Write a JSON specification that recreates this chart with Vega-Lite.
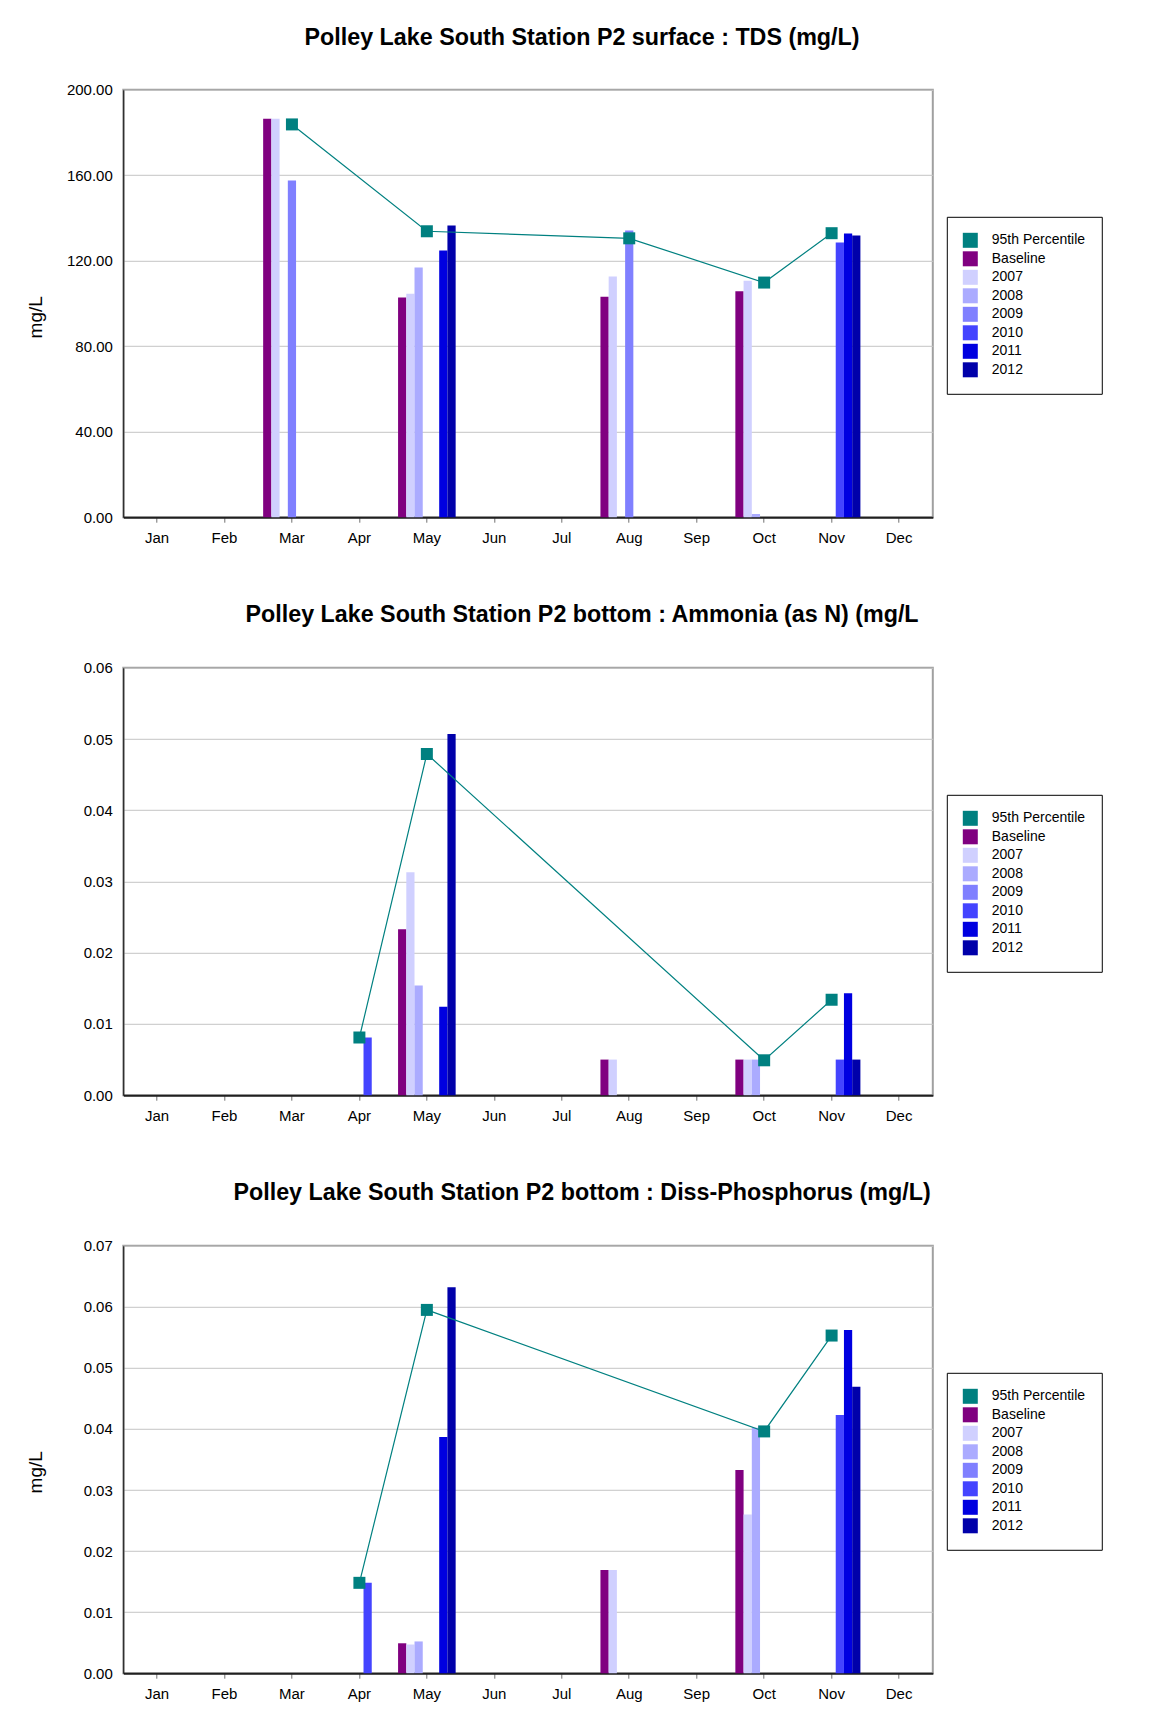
{
  "$schema": "https://vega.github.io/schema/vega-lite/v6.json",
  "background": "white",
  "padding": {"left": 25.3, "top": 23.8, "right": 10, "bottom": 10},
  "bounds": "flush",
  "spacing": 150,
  "resolve": {"scale": {"color": "independent", "x": "independent", "y": "independent", "xOffset": "independent"}, "legend": {"color": "independent"}},
  "config": {
    "font": "Liberation Sans",
    "view": {"stroke": "#A0A0A0", "strokeWidth": 2},
    "axisX": {"labelAngle": 0, "labelFontSize": 15, "labelColor": "black", "labelFont": "Liberation Sans", "tickColor": "#707070", "tickSize": 5, "labelPadding": 8.5, "domainColor": "#202020", "domainWidth": 2, "grid": false, "title": null},
    "axisY": {"labelFontSize": 15, "labelColor": "black", "labelFont": "Liberation Sans", "ticks": false, "tickSize": 0, "labelPadding": 11, "domainColor": "black", "domainWidth": 1, "gridColor": "#C4C4C4", "gridWidth": 1, "titleFontSize": 19, "titleFontWeight": "normal", "titleColor": "black", "titleFont": "Liberation Sans"},
    "legend": {"orient": "none", "legendX": 823.5, "legendY": 127, "symbolType": "square", "symbolSize": 225, "symbolStrokeWidth": 0, "labelFontSize": 14, "labelFont": "Liberation Sans", "labelColor": "black", "labelOffset": 14, "rowPadding": 3.5, "padding": 16, "strokeColor": "black", "strokeWidth": 1, "fillColor": "white"},
    "title": {"fontSize": 23.3, "fontWeight": "bold", "font": "Liberation Sans", "color": "black", "anchor": "middle", "frame": "group", "dx": 54, "baseline": "middle", "offset": 33}
  },
  "datasets": {
    "tds_bars": [
      {"month": "Mar", "series": "Baseline", "value": 186.5},
      {"month": "Mar", "series": "2007", "value": 186.5},
      {"month": "Mar", "series": "2009", "value": 157.5},
      {"month": "May", "series": "Baseline", "value": 102.8},
      {"month": "May", "series": "2007", "value": 104.6},
      {"month": "May", "series": "2008", "value": 116.8},
      {"month": "May", "series": "2011", "value": 124.8},
      {"month": "May", "series": "2012", "value": 136.5},
      {"month": "Aug", "series": "Baseline", "value": 103.2},
      {"month": "Aug", "series": "2007", "value": 112.6},
      {"month": "Aug", "series": "2009", "value": 134.2},
      {"month": "Oct", "series": "Baseline", "value": 105.7},
      {"month": "Oct", "series": "2007", "value": 110.7},
      {"month": "Oct", "series": "2008", "value": 1.5},
      {"month": "Nov", "series": "2010", "value": 128.5},
      {"month": "Nov", "series": "2011", "value": 132.7},
      {"month": "Nov", "series": "2012", "value": 131.8}
    ],
    "tds_p95": [
      {"month": "Mar", "value": 183.8},
      {"month": "May", "value": 133.8},
      {"month": "Aug", "value": 130.5},
      {"month": "Oct", "value": 109.8},
      {"month": "Nov", "value": 132.9}
    ],
    "nh3_bars": [
      {"month": "Apr", "series": "2010", "value": 0.0081},
      {"month": "May", "series": "Baseline", "value": 0.0233},
      {"month": "May", "series": "2007", "value": 0.0313},
      {"month": "May", "series": "2008", "value": 0.0154},
      {"month": "May", "series": "2011", "value": 0.0124},
      {"month": "May", "series": "2012", "value": 0.0507},
      {"month": "Aug", "series": "Baseline", "value": 0.005},
      {"month": "Aug", "series": "2007", "value": 0.005},
      {"month": "Oct", "series": "Baseline", "value": 0.005},
      {"month": "Oct", "series": "2007", "value": 0.005},
      {"month": "Oct", "series": "2008", "value": 0.005},
      {"month": "Nov", "series": "2010", "value": 0.005},
      {"month": "Nov", "series": "2011", "value": 0.0143},
      {"month": "Nov", "series": "2012", "value": 0.005}
    ],
    "nh3_p95": [
      {"month": "Apr", "value": 0.0081},
      {"month": "May", "value": 0.0479},
      {"month": "Oct", "value": 0.0049},
      {"month": "Nov", "value": 0.0134}
    ],
    "p_bars": [
      {"month": "Apr", "series": "2010", "value": 0.0148},
      {"month": "May", "series": "Baseline", "value": 0.0049},
      {"month": "May", "series": "2007", "value": 0.0047},
      {"month": "May", "series": "2008", "value": 0.0052},
      {"month": "May", "series": "2011", "value": 0.0387},
      {"month": "May", "series": "2012", "value": 0.0632},
      {"month": "Aug", "series": "Baseline", "value": 0.0169},
      {"month": "Aug", "series": "2007", "value": 0.0169},
      {"month": "Oct", "series": "Baseline", "value": 0.0333},
      {"month": "Oct", "series": "2007", "value": 0.026},
      {"month": "Oct", "series": "2008", "value": 0.0402},
      {"month": "Nov", "series": "2010", "value": 0.0423},
      {"month": "Nov", "series": "2011", "value": 0.0562},
      {"month": "Nov", "series": "2012", "value": 0.0469}
    ],
    "p_p95": [
      {"month": "Apr", "value": 0.0148},
      {"month": "May", "value": 0.0595},
      {"month": "Oct", "value": 0.0396},
      {"month": "Nov", "value": 0.0553}
    ]
  },
  "vconcat": [
    {
      "width": 809.5, "height": 427.4,
      "title": {"text": "Polley Lake South Station P2 surface : TDS (mg/L)"},
      "layer": [
        {
          "data": {"name": "tds_bars"},
          "mark": {"type": "bar"},
          "encoding": {
            "x": {"field": "month", "type": "nominal", "scale": {"domain": ["Jan","Feb","Mar","Apr","May","Jun","Jul","Aug","Sep","Oct","Nov","Dec"], "paddingInner": 0, "paddingOuter": 0}},
            "xOffset": {"field": "series", "type": "nominal", "scale": {"domain": ["Baseline","2007","2008","2009","2010","2011","2012"], "paddingInner": 0, "paddingOuter": 0.6}},
            "y": {"field": "value", "type": "quantitative", "scale": {"domain": [0, 200], "nice": false}, "axis": {"values": [0, 40, 80, 120, 160, 200], "format": ".2f", "title": "mg/L", "titleX": -87.5, "titleY": 227, "titleAngle": 270, "titleAlign": "center", "titleBaseline": "middle"}},
            "color": {"field": "series", "type": "nominal", "scale": {"domain": ["95th Percentile","Baseline","2007","2008","2009","2010","2011","2012"], "range": ["#008080","#800080","#D0D0FF","#ABABFF","#8080FF","#4444FF","#0000E0","#0000AA"]}, "legend": {"title": null}}
          }
        },
        {
          "data": {"name": "tds_p95"},
          "mark": {"type": "line", "color": "#008080", "strokeWidth": 1.2},
          "encoding": {
            "x": {"field": "month", "type": "nominal"},
            "y": {"field": "value", "type": "quantitative"}
          }
        },
        {
          "data": {"name": "tds_p95"},
          "mark": {"type": "point", "shape": "square", "filled": true, "size": 144, "opacity": 1, "color": "#008080"},
          "encoding": {
            "x": {"field": "month", "type": "nominal"},
            "y": {"field": "value", "type": "quantitative"}
          }
        }
      ]
    },
    {
      "width": 809.5, "height": 427.4,
      "title": {"text": "Polley Lake South Station P2 bottom : Ammonia (as N) (mg/L"},
      "layer": [
        {
          "data": {"name": "nh3_bars"},
          "mark": {"type": "bar"},
          "encoding": {
            "x": {"field": "month", "type": "nominal", "scale": {"domain": ["Jan","Feb","Mar","Apr","May","Jun","Jul","Aug","Sep","Oct","Nov","Dec"], "paddingInner": 0, "paddingOuter": 0}},
            "xOffset": {"field": "series", "type": "nominal", "scale": {"domain": ["Baseline","2007","2008","2009","2010","2011","2012"], "paddingInner": 0, "paddingOuter": 0.6}},
            "y": {"field": "value", "type": "quantitative", "scale": {"domain": [0, 0.06], "nice": false}, "axis": {"values": [0, 0.01, 0.02, 0.03, 0.04, 0.05, 0.06], "format": ".2f", "title": null}},
            "color": {"field": "series", "type": "nominal", "scale": {"domain": ["95th Percentile","Baseline","2007","2008","2009","2010","2011","2012"], "range": ["#008080","#800080","#D0D0FF","#ABABFF","#8080FF","#4444FF","#0000E0","#0000AA"]}, "legend": {"title": null}}
          }
        },
        {
          "data": {"name": "nh3_p95"},
          "mark": {"type": "line", "color": "#008080", "strokeWidth": 1.2},
          "encoding": {
            "x": {"field": "month", "type": "nominal"},
            "y": {"field": "value", "type": "quantitative"}
          }
        },
        {
          "data": {"name": "nh3_p95"},
          "mark": {"type": "point", "shape": "square", "filled": true, "size": 144, "opacity": 1, "color": "#008080"},
          "encoding": {
            "x": {"field": "month", "type": "nominal"},
            "y": {"field": "value", "type": "quantitative"}
          }
        }
      ]
    },
    {
      "width": 809.5, "height": 427.4,
      "title": {"text": "Polley Lake South Station P2 bottom : Diss-Phosphorus (mg/L)"},
      "layer": [
        {
          "data": {"name": "p_bars"},
          "mark": {"type": "bar"},
          "encoding": {
            "x": {"field": "month", "type": "nominal", "scale": {"domain": ["Jan","Feb","Mar","Apr","May","Jun","Jul","Aug","Sep","Oct","Nov","Dec"], "paddingInner": 0, "paddingOuter": 0}},
            "xOffset": {"field": "series", "type": "nominal", "scale": {"domain": ["Baseline","2007","2008","2009","2010","2011","2012"], "paddingInner": 0, "paddingOuter": 0.6}},
            "y": {"field": "value", "type": "quantitative", "scale": {"domain": [0, 0.07], "nice": false}, "axis": {"values": [0, 0.01, 0.02, 0.03, 0.04, 0.05, 0.06, 0.07], "format": ".2f", "title": "mg/L", "titleX": -87.5, "titleY": 226, "titleAngle": 270, "titleAlign": "center", "titleBaseline": "middle"}},
            "color": {"field": "series", "type": "nominal", "scale": {"domain": ["95th Percentile","Baseline","2007","2008","2009","2010","2011","2012"], "range": ["#008080","#800080","#D0D0FF","#ABABFF","#8080FF","#4444FF","#0000E0","#0000AA"]}, "legend": {"title": null}}
          }
        },
        {
          "data": {"name": "p_p95"},
          "mark": {"type": "line", "color": "#008080", "strokeWidth": 1.2},
          "encoding": {
            "x": {"field": "month", "type": "nominal"},
            "y": {"field": "value", "type": "quantitative"}
          }
        },
        {
          "data": {"name": "p_p95"},
          "mark": {"type": "point", "shape": "square", "filled": true, "size": 144, "opacity": 1, "color": "#008080"},
          "encoding": {
            "x": {"field": "month", "type": "nominal"},
            "y": {"field": "value", "type": "quantitative"}
          }
        }
      ]
    }
  ]
}
